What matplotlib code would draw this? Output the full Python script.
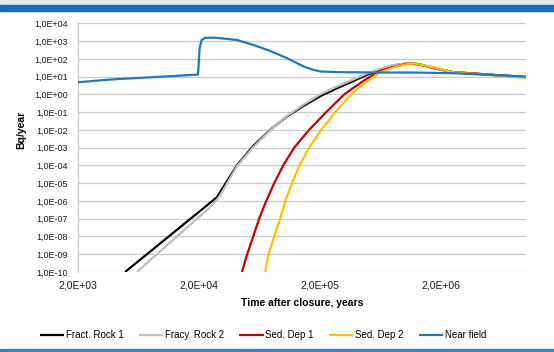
import matplotlib
matplotlib.use("Agg")
import matplotlib.pyplot as plt
from matplotlib.ticker import FixedLocator, FuncFormatter, NullLocator
import numpy as np

plt.rcParams["font.family"] = ["Liberation Sans", "DejaVu Sans"]

# Release rates (Bq/year) versus time after closure (years)
rock1_t = [4890, 23900, 28000, 41000, 56200, 77300, 106000, 145000, 200000, 275000,
           375000, 486000, 627000, 802000, 1.04e6, 1.34e6, 1.72e6, 2.51e6, 4.2e6, 9.89e6]
rock1_v = [1.0e-10, 6.6e-7, 1.6e-6, 1.0e-4, 1.3e-3, 1.0e-2, 5.6e-2, 0.22, 0.79, 2.2,
           5.6, 12.6, 25, 42, 55, 48, 30, 17.8, 14, 9.5]

rock2_t = [6110, 25600, 29800, 41000, 56200, 77300, 106000, 145000, 200000, 275000,
           375000, 486000, 627000, 802000, 1.04e6, 1.34e6, 1.72e6, 2.51e6, 4.2e6, 9.89e6]
rock2_v = [1.0e-10, 5.6e-7, 2.0e-6, 8.9e-5, 1.1e-3, 9.5e-3, 0.06, 0.26, 1.0, 2.8,
           6.9, 14.8, 28, 45, 56, 48, 30, 17.8, 14, 9.5]

sed1_t = [45100, 49900, 55900, 62600, 71600, 83400, 98900, 122000, 162000, 224000,
          316000, 375000, 489000, 592000, 802000, 1.04e6, 1.22e6, 1.72e6, 2.51e6,
          4.2e6, 9.89e6]
sed1_v = [1.0e-10, 1.0e-9, 1.0e-8, 1.0e-7, 1.0e-6, 1.0e-5, 1.0e-4, 1.0e-3, 1.0e-2, 0.1,
          1.0, 2.3, 7.9, 17.8, 35, 52, 54, 32, 17.8, 14, 9.3]

sed2_t = [70200, 75100, 83400, 93400, 103000, 117000, 135000, 162000, 204000, 266000,
          361000, 412000, 528000, 627000, 833000, 1.07e6, 1.22e6, 1.84e6, 2.51e6,
          4.2e6, 9.89e6]
sed2_v = [1.0e-10, 1.0e-9, 1.0e-8, 1.0e-7, 1.0e-6, 1.0e-5, 1.0e-4, 1.0e-3, 1.0e-2, 0.1,
          1.0, 2.3, 7.9, 17.8, 35, 52, 55, 30, 17.4, 13.5, 8.5]

near_t = [2000, 3670, 7870, 19600, 20200, 21000, 22400, 26100, 29800, 41000, 56200,
          77300, 106000, 146000, 176000, 200000, 275000, 626000, 1.11e6, 2.51e6, 9.9e6]
near_v = [4.8, 6.8, 9.1, 13, 400, 1170, 1500, 1580, 1450, 1150, 600,
          280, 110, 37, 24, 19.5, 17.8, 17, 17, 15.5, 10]

series = [
    ("Fract. Rock 1", rock1_t, rock1_v, "#000000"),
    ("Fracy. Rock 2", rock2_t, rock2_v, "#BFBFBF"),
    ("Sed. Dep 1", sed1_t, sed1_v, "#C00000"),
    ("Sed. Dep 2", sed2_t, sed2_v, "#FFC000"),
    ("Near field", near_t, near_v, "#1F77BE"),
]

x_ticks = [2e3, 2e4, 2e5, 2e6]
x_labels = ["2,0E+03", "2,0E+04", "2,0E+05", "2,0E+06"]

W, H = 554, 352
fig = plt.figure(figsize=(W / 100, H / 100), dpi=100)
fig.patch.set_facecolor("white")

# header band and footer rule
fig.patches.append(plt.Rectangle((0, 1 - 5 / H), 1, 5 / H, transform=fig.transFigure,
                                 color="#E8E8E8", zorder=0))
fig.patches.append(plt.Rectangle((0, 1 - 11 / H), 1, 6 / H, transform=fig.transFigure,
                                 color="#0A6EBD", zorder=0))
fig.patches.append(plt.Rectangle((0, 1 - 351 / H), 1, 2 / H, transform=fig.transFigure,
                                 color="#3C82C4", zorder=0))

left, right, top, bottom = 78, 526, 23.3, 272
ax = fig.add_axes([left / W, 1 - bottom / H, (right - left) / W, (bottom - top) / H])

for name, t, v, c in series:
    ax.plot(t, v, color=c, lw=1.6, label=name, solid_capstyle="butt",
            solid_joinstyle="round", zorder=3)

ax.set_xscale("log")
ax.set_yscale("log")
ax.set_xlim(2e3, 1e7)
ax.set_ylim(1e-10, 1e4)

ax.xaxis.set_major_locator(FixedLocator(x_ticks))
ax.set_xticklabels(x_labels)
ax.xaxis.set_minor_locator(NullLocator())
ax.yaxis.set_major_locator(FixedLocator([10.0 ** e for e in range(-10, 5)]))
ax.yaxis.set_minor_locator(NullLocator())
ax.yaxis.set_major_formatter(FuncFormatter(
    lambda v, p: "1,0E%+03d" % int(round(np.log10(v)))))

ax.tick_params(axis="both", length=0, colors="#1a1a1a")
ax.tick_params(axis="y", labelsize=6.5, pad=7.5)
ax.tick_params(axis="x", labelsize=7.5, pad=6)
ax.grid(axis="y", color="#C8C8C8", lw=0.9, zorder=0)
for s in ["top", "right", "bottom"]:
    ax.spines[s].set_visible(False)
ax.spines["left"].set_color("#C8C8C8")
ax.spines["left"].set_linewidth(0.9)

fig.text(302 / W, 1 - 303 / H, "Time after closure, years", ha="center", va="center",
         fontsize=7.5, fontweight="bold")
fig.text(21 / W, 1 - 130 / H, "Bq/year", ha="center", va="center", rotation=90,
         fontsize=7.5, fontweight="bold")

handles, labels = ax.get_legend_handles_labels()
fig.legend(handles, labels, loc="center", bbox_to_anchor=(263 / W, 1 - 335 / H),
           ncol=5, frameon=False, fontsize=7, handlelength=2.5, handletextpad=0.15,
           columnspacing=1.6)

fig.savefig("out.png", dpi=100)
